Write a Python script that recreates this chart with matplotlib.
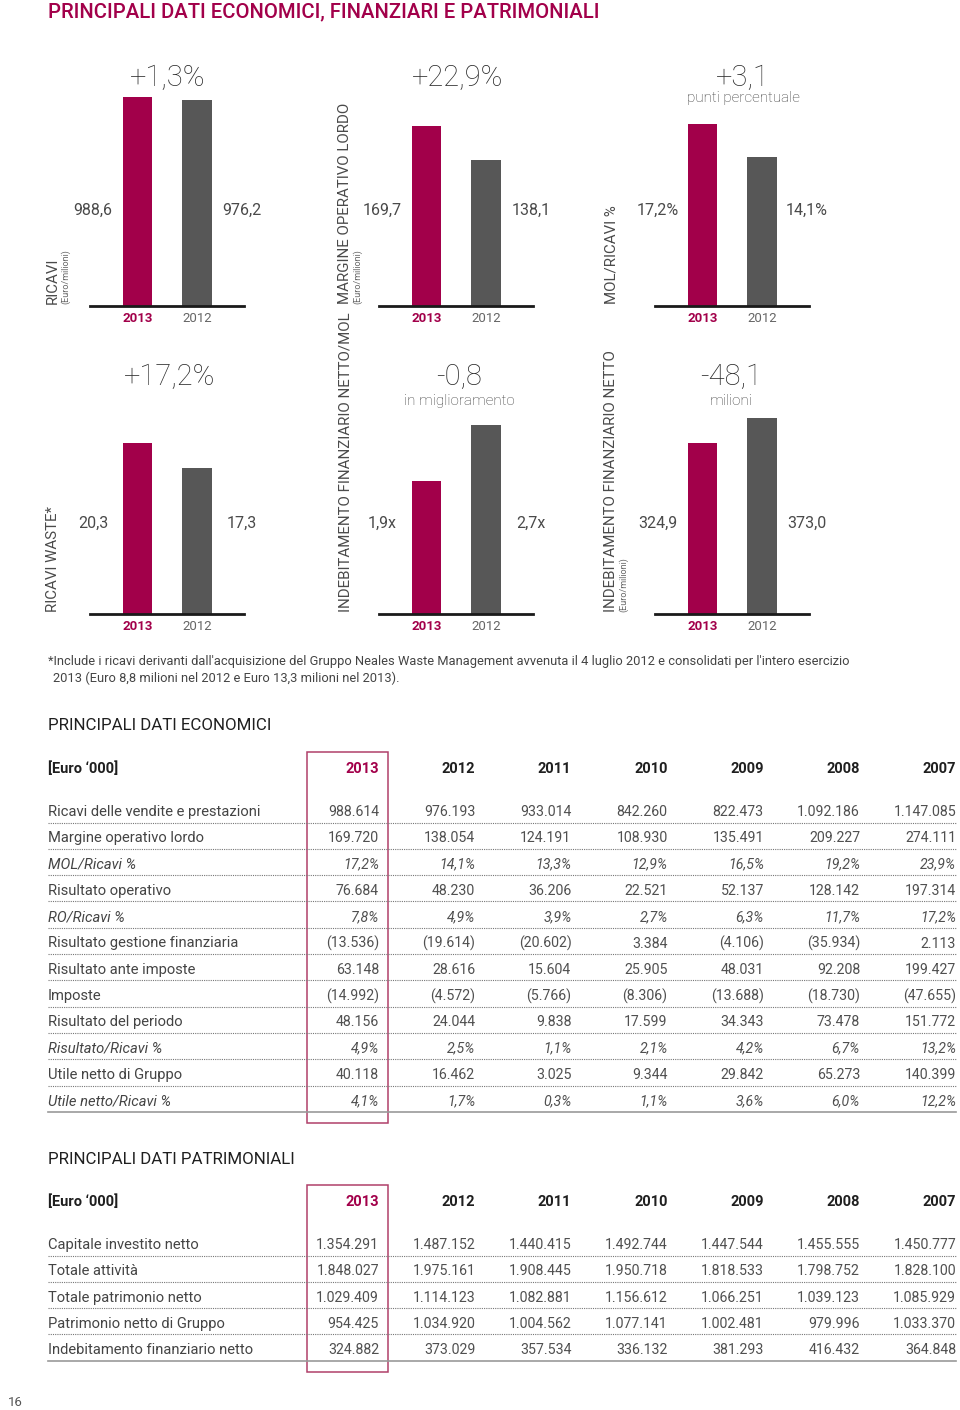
import matplotlib
matplotlib.use('Agg')
import matplotlib.pyplot as plt
from matplotlib.patches import Rectangle

plt.rcParams['font.family'] = ['Roboto', 'DejaVu Sans']

CREMISI = '#A2004A'
GRIGIO = '#575757'
TESTO = '#444444'
W, H = 960, 1410

# --- grafici a barre (2013 vs 2012) ---
anni_barre = ['2013', '2012']
ricavi = [988.6, 976.2]
mol = [169.7, 138.1]
mol_ricavi = [17.2, 14.1]
ricavi_waste = [20.3, 17.3]
pfn_mol = [1.9, 2.7]
pfn = [324.9, 373.0]
suffissi = ['', '', '%', '', 'x', '']
titoli_pannelli = ['RICAVI', 'MARGINE OPERATIVO LORDO', 'MOL/RICAVI %',
                   'RICAVI WASTE*', 'INDEBITAMENTO FINANZIARIO NETTO/MOL',
                   'INDEBITAMENTO FINANZIARIO NETTO']
unita_pannelli = ['(Euro/milioni)', '(Euro/milioni)', '', '', '', '(Euro/milioni)']
variazioni = ['+1,3%', '+22,9%', '+3,1', '+17,2%', '-0,8', '-48,1']
sottotitoli = ['', '', 'punti percentuale', '', 'in miglioramento', 'milioni']

# --- tabelle ---
anni_tabella = ['2013', '2012', '2011', '2010', '2009', '2008', '2007']

voci_economiche = ['Ricavi delle vendite e prestazioni', 'Margine operativo lordo',
                   'MOL/Ricavi %', 'Risultato operativo', 'RO/Ricavi %',
                   'Risultato gestione finanziaria', 'Risultato ante imposte', 'Imposte',
                   'Risultato del periodo', 'Risultato/Ricavi %', 'Utile netto di Gruppo',
                   'Utile netto/Ricavi %']
corsivo_economiche = [False, False, True, False, True, False, False, False, False, True, False, True]
ricavi_vendite = ['988.614', '976.193', '933.014', '842.260', '822.473', '1.092.186', '1.147.085']
margine_operativo = ['169.720', '138.054', '124.191', '108.930', '135.491', '209.227', '274.111']
mol_su_ricavi = ['17,2%', '14,1%', '13,3%', '12,9%', '16,5%', '19,2%', '23,9%']
risultato_operativo = ['76.684', '48.230', '36.206', '22.521', '52.137', '128.142', '197.314']
ro_su_ricavi = ['7,8%', '4,9%', '3,9%', '2,7%', '6,3%', '11,7%', '17,2%']
gestione_finanziaria = ['(13.536)', '(19.614)', '(20.602)', '3.384', '(4.106)', '(35.934)', '2.113']
ante_imposte = ['63.148', '28.616', '15.604', '25.905', '48.031', '92.208', '199.427']
imposte = ['(14.992)', '(4.572)', '(5.766)', '(8.306)', '(13.688)', '(18.730)', '(47.655)']
risultato_periodo = ['48.156', '24.044', '9.838', '17.599', '34.343', '73.478', '151.772']
risultato_su_ricavi = ['4,9%', '2,5%', '1,1%', '2,1%', '4,2%', '6,7%', '13,2%']
utile_netto = ['40.118', '16.462', '3.025', '9.344', '29.842', '65.273', '140.399']
utile_su_ricavi = ['4,1%', '1,7%', '0,3%', '1,1%', '3,6%', '6,0%', '12,2%']

voci_patrimoniali = ['Capitale investito netto', 'Totale attività', 'Totale patrimonio netto',
                     'Patrimonio netto di Gruppo', 'Indebitamento finanziario netto']
capitale_investito = ['1.354.291', '1.487.152', '1.440.415', '1.492.744', '1.447.544', '1.455.555', '1.450.777']
totale_attivita = ['1.848.027', '1.975.161', '1.908.445', '1.950.718', '1.818.533', '1.798.752', '1.828.100']
patrimonio_netto = ['1.029.409', '1.114.123', '1.082.881', '1.156.612', '1.066.251', '1.039.123', '1.085.929']
patrimonio_gruppo = ['954.425', '1.034.920', '1.004.562', '1.077.141', '1.002.481', '979.996', '1.033.370']
indebitamento = ['324.882', '373.029', '357.534', '336.132', '381.293', '416.432', '364.848']

fig = plt.figure(figsize=(W / 100, H / 100), dpi=100)
fig.patch.set_facecolor('white')

# asse di sfondo in pixel per testi e tabelle
bg = fig.add_axes([0, 0, 1, 1])
bg.set_xlim(0, W)
bg.set_ylim(H, 0)
bg.axis('off')

bg.text(48, 12, 'PRINCIPALI DATI ECONOMICI, FINANZIARI E PATRIMONIALI', fontsize=14.6,
        fontweight='medium', color=CREMISI, va='center', ha='left')

# pannelli a barre
dati_pannelli = [ricavi, mol, mol_ricavi, ricavi_waste, pfn_mol, pfn]
scala_ylim = [1.177, 1.367, 1.352, 1.573, 1.423, 1.372]
sinistra = [90, 379, 655]
base = [306, 614]
cima = [60, 345]
y_valori = [210, 523]
x_titoli = [53, 345, 611]
x_variazione = [168, 458, 743, 170, 459, 731]
y_variazione = [78, 377]
y_sotto = [98, 401]

for i, valori in enumerate(dati_pannelli):
    r, c = divmod(i, 3)
    x0, y0, y1 = sinistra[c], base[r], cima[r]
    ax = fig.add_axes([x0 / W, 1 - y0 / H, 154 / W, (y0 - y1) / H])
    ax.patch.set_alpha(0)
    ax.bar(range(2), valori, width=0.49, color=[CREMISI, GRIGIO])
    ax.set_xlim(-0.80, 1.79)
    ax.set_ylim(0, max(valori) * scala_ylim[i])
    for s in ['top', 'right', 'left']:
        ax.spines[s].set_visible(False)
    ax.spines['bottom'].set_linewidth(2)
    ax.spines['bottom'].set_color('#1a1a1a')
    ax.set_yticks([])
    ax.set_xticks(range(2))
    ax.set_xticklabels(anni_barre, fontsize=9.5)
    ax.tick_params(axis='x', length=0, pad=4)
    lab = ax.get_xticklabels()
    lab[0].set_color(CREMISI)
    lab[0].set_fontweight('bold')
    lab[1].set_color('#666666')

    # valori ai lati
    testi = [f"{v:.1f}".replace('.', ',') + suffissi[i] for v in valori]
    for xv, t in zip([x0 + 3, x0 + 152], testi):
        bg.text(xv, y_valori[r], t, fontsize=11.5, color='#4a4a4a', ha='center', va='center')

    # variazione
    bg.text(x_variazione[i], y_variazione[r], variazioni[i], fontsize=21, color='#2a2a2a',
            ha='center', va='center', fontweight='light')
    if sottotitoli[i]:
        bg.text(x_variazione[i], y_sotto[r], sottotitoli[i], fontsize=11, color='#3a3a3a',
                ha='center', va='center', fontweight='light')

    # titolo verticale
    bg.text(x_titoli[c], y0 - 2, titoli_pannelli[i], rotation=90, fontsize=10.8, color='#4a4a4a',
            ha='center', va='bottom')
    if unita_pannelli[i]:
        bg.text(x_titoli[c] + 13, y0 - 2, unita_pannelli[i], rotation=90, fontsize=6.5,
                color='#666666', ha='center', va='bottom')

# nota
bg.text(48, 661, "*Include i ricavi derivanti dall'acquisizione del Gruppo Neales Waste Management "
        "avvenuta il 4 luglio 2012 e consolidati per l'intero esercizio",
        fontsize=9.3, color=TESTO, va='center')
bg.text(53, 678, "2013 (Euro 8,8 milioni nel 2012 e Euro 13,3 milioni nel 2013).",
        fontsize=9.3, color=TESTO, va='center')

x_colonne = [379 + k * 96.2 for k in range(7)]


def disegna_tabella(titolo, y_titolo, y_intest, y_prima, voci, righe, corsivo, box):
    bg.text(48, y_titolo, titolo, fontsize=12.2, color='#1f1f1f', va='center')
    bg.text(48, y_intest, "[Euro ‘000]", fontsize=10.5, fontweight='bold', color='#1f1f1f',
            va='center')
    for k, anno in enumerate(anni_tabella):
        bg.text(x_colonne[k], y_intest, anno, fontsize=10.5, fontweight='bold',
                color=CREMISI if k == 0 else '#1f1f1f', ha='right', va='center')
    passo = 26.3
    for j, (voce, riga) in enumerate(zip(voci, righe)):
        y = y_prima + j * passo
        stile = 'italic' if corsivo[j] else 'normal'
        bg.text(48, y, voce, fontsize=10.6, color=TESTO, style=stile, va='center')
        for k, val in enumerate(riga):
            bg.text(x_colonne[k], y, val, fontsize=10.2, color='#505050', style=stile,
                    ha='right', va='center')
        if j < len(voci) - 1:
            bg.plot([48, 956], [y + 10.5, y + 10.5], color='#777777', lw=0.8, ls=(0, (1, 1)))
        else:
            bg.plot([48, 956], [y + 11, y + 11], color='#999999', lw=1.2)
    bg.add_patch(Rectangle((307, box[0]), 81, box[1] - box[0], fill=False,
                           edgecolor='#B0406A', lw=1.1))


disegna_tabella('PRINCIPALI DATI ECONOMICI', 726, 769, 812, voci_economiche,
                [ricavi_vendite, margine_operativo, mol_su_ricavi, risultato_operativo,
                 ro_su_ricavi, gestione_finanziaria, ante_imposte, imposte,
                 risultato_periodo, risultato_su_ricavi, utile_netto, utile_su_ricavi],
                corsivo_economiche, (752, 1123))

disegna_tabella('PRINCIPALI DATI PATRIMONIALI', 1159, 1202, 1245, voci_patrimoniali,
                [capitale_investito, totale_attivita, patrimonio_netto, patrimonio_gruppo,
                 indebitamento],
                [False] * 5, (1185, 1372))

bg.text(8, 1402, '16', fontsize=9.5, color='#555555', va='center')

fig.savefig('out.png', dpi=100)
